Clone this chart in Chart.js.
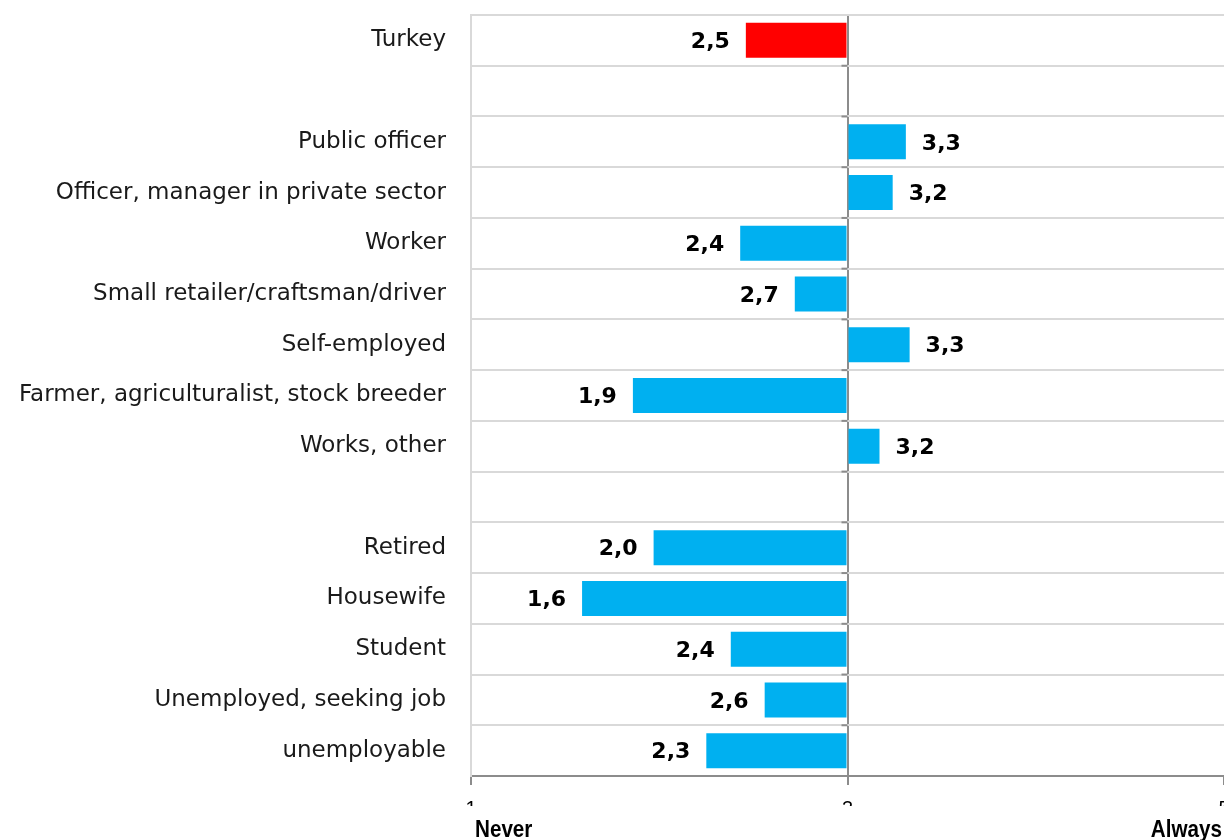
<!DOCTYPE html>
<html>
<head>
<meta charset="utf-8">
<script src="https://cdn.jsdelivr.net/npm/chart.js@4.4.1/dist/chart.umd.min.js"></script>
<style>
  html, body { margin: 0; padding: 0; background: #fff; overflow: hidden; }
  #wrap { width: 1224px; height: 840px; }
</style>
</head>
<body>
<div id="wrap"><canvas id="chart" width="1224" height="840"></canvas></div>
<script>
// categories top to bottom, blanks are the gaps between groups
const categories = [
    'Turkey', '',
    'Public officer', 'Officer, manager in private sector', 'Worker',
    'Small retailer/craftsman/driver', 'Self-employed',
    'Farmer, agriculturalist, stock breeder', 'Works, other', '',
    'Retired', 'Housewife', 'Student', 'Unemployed, seeking job', 'unemployable'
];
const scores = [2.46, null, 3.31, 3.24, 2.43, 2.72, 3.33, 1.86, 3.17, null, 1.97, 1.59, 2.38, 2.56, 2.25];
const valueLabels = ['2,5', '', '3,3', '3,2', '2,4', '2,7', '3,3', '1,9', '3,2', '', '2,0', '1,6', '2,4', '2,6', '2,3'];
const barColors = ['#FF0000', null, '#00B0F0', '#00B0F0', '#00B0F0', '#00B0F0', '#00B0F0', '#00B0F0', '#00B0F0', null,
    '#00B0F0', '#00B0F0', '#00B0F0', '#00B0F0', '#00B0F0'];
const xTicks = [1, 3, 5];
const midPoint = 3;

const AXIS_GRAY = '#8c8c8c';
const GRID_GRAY = '#d9d9d9';

const noPadding = scale => {
    scale.paddingTop = 0;
    scale.paddingBottom = 0;
    scale.paddingLeft = 0;
    scale.paddingRight = 0;
};

// value labels outside the bar ends
const valueLabelPlugin = {
    id: 'valueLabels',
    afterDatasetsDraw(chart) {
        const ctx = chart.ctx;
        const meta = chart.getDatasetMeta(0);
        ctx.save();
        ctx.font = 'bold 22px "DejaVu Sans"';
        ctx.fillStyle = '#000';
        ctx.textBaseline = 'middle';
        meta.data.forEach((bar, i) => {
            if (scores[i] === null) return;
            const neg = scores[i] < midPoint;
            ctx.textAlign = neg ? 'right' : 'left';
            ctx.fillText(valueLabels[i], neg ? bar.x - 16 : bar.x + 16, bar.y + 2);
        });
        ctx.restore();
    }
};

// little ticks on the 3-line, and the Never / Always captions under the axis
const axisExtrasPlugin = {
    id: 'axisExtras',
    afterDraw(chart) {
        const ctx = chart.ctx;
        const x = chart.scales.x;
        const y = chart.scales.y;
        const x3 = x.getPixelForValue(midPoint);
        ctx.save();
        ctx.strokeStyle = AXIS_GRAY;
        ctx.lineWidth = 2;
        const step = (y.bottom - y.top) / categories.length;
        for (let i = 1; i < categories.length; i++) {
            const yy = y.top + step * i;
            ctx.beginPath();
            ctx.moveTo(x3 - 6, yy);
            ctx.lineTo(x3, yy);
            ctx.stroke();
        }
        // cover lower half of tick numbers like the reference
        ctx.fillStyle = '#fff';
        ctx.fillRect(0, 806, chart.width, chart.height - 806);
        ctx.fillStyle = '#000';
        ctx.font = 'bold 24px "Liberation Sans"';
        ctx.textBaseline = 'alphabetic';
        // squeeze to look like a narrow bold face
        const sx = 0.86;
        ctx.scale(sx, 1);
        ctx.textAlign = 'left';
        ctx.fillText('Never', (x.getPixelForValue(1) + 4) / sx, 837);
        ctx.textAlign = 'right';
        ctx.fillText('Always', (chart.width - 2) / sx, 837);
        ctx.restore();
    }
};

new Chart(document.getElementById('chart'), {
    type: 'bar',
    data: {
        labels: categories,
        datasets: [{
            data: scores,
            base: midPoint,
            backgroundColor: barColors,
            barPercentage: 0.69,
            categoryPercentage: 1,
            borderWidth: 0
        }]
    },
    options: {
        indexAxis: 'y',
        responsive: false,
        animation: false,
        layout: { padding: { top: 15, right: 0, left: 0, bottom: 0 } },
        plugins: {
            legend: { display: false },
            tooltip: { enabled: false }
        },
        scales: {
            x: {
                min: 1,
                max: 5,
                afterBuildTicks: scale => { scale.ticks = xTicks.map(v => ({ value: v })); },
                afterFit: scale => { scale.height = 64; noPadding(scale); },
                grid: {
                    color: c => (c.tick && c.tick.value === midPoint ? AXIS_GRAY : 'transparent'),
                    lineWidth: 2,
                    tickColor: AXIS_GRAY,
                    tickLength: 9,
                    drawOnChartArea: true
                },
                border: { color: AXIS_GRAY, width: 2 },
                ticks: {
                    padding: 12,
                    color: '#000',
                    font: { family: 'Liberation Sans', size: 20 },
                    maxRotation: 0
                }
            },
            y: {
                afterFit: scale => { scale.width = 471; noPadding(scale); },
                grid: {
                    offset: true,
                    color: GRID_GRAY,
                    lineWidth: 2,
                    drawTicks: false
                },
                border: { color: GRID_GRAY, width: 2 },
                ticks: {
                    padding: 25,
                    color: '#1a1a1a',
                    font: { family: 'DejaVu Sans', size: 23 }
                }
            }
        }
    },
    plugins: [valueLabelPlugin, axisExtrasPlugin]
});
</script>
</body>
</html>
